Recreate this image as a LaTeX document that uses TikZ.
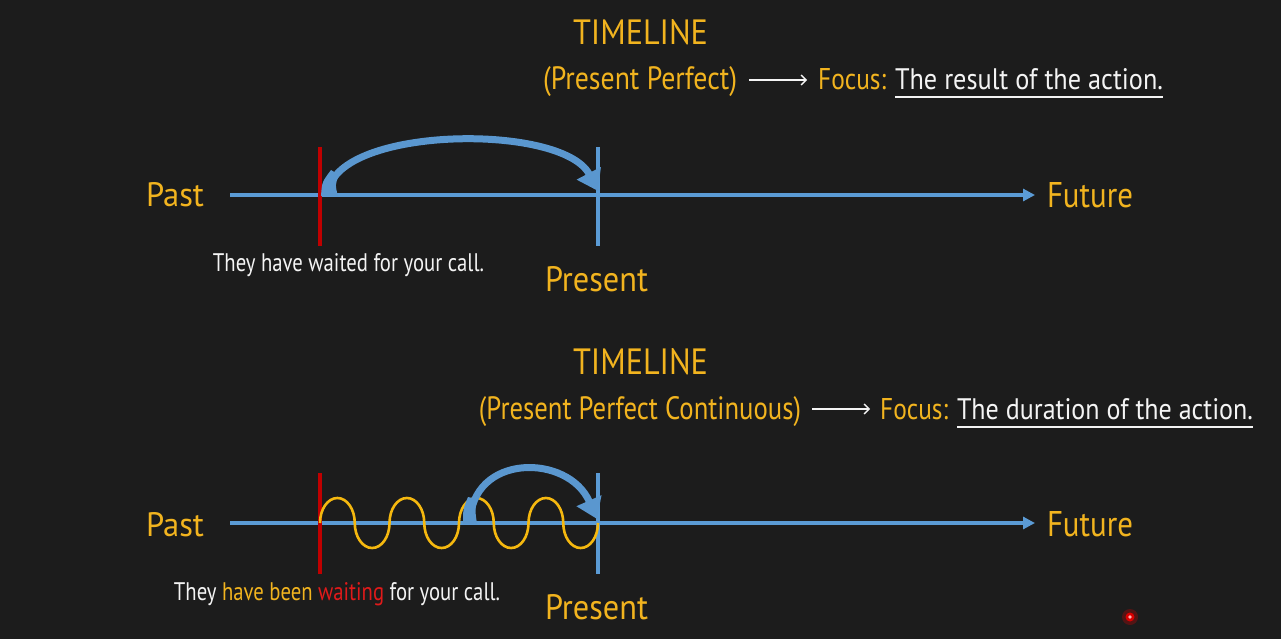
\documentclass[tikz,border=0pt]{standalone}
\usepackage{fontspec}
\setmainfont{PT Sans}
\usepackage{graphicx}
\usetikzlibrary{arrows.meta}
\definecolor{bgc}{HTML}{1C1C1C}
\definecolor{ora}{HTML}{F2B41F}
\definecolor{blu}{HTML}{5B9BD5}
\definecolor{arrb}{HTML}{5A97CF}
\definecolor{redl}{HTML}{C00000}
\definecolor{redt}{HTML}{E01A1A}
\definecolor{wav}{HTML}{F5B80F}
\definecolor{wht}{HTML}{F4F4F4}
\newcommand\rsz[3]{\resizebox{#1pt}{#2pt}{#3}}
\tikzset{
  lbl/.style={inner sep=0pt, anchor=base, font=\fontsize{30}{30}\selectfont},
  olbl/.style={lbl, text=ora},
  wlbl/.style={lbl, text=wht},
  axis/.style={blu, line width=4pt, -{Triangle[length=12pt,width=12pt]}},
  tick/.style={line width=4pt},
  bigarr/.style={arrb, line width=7pt, -{Triangle[length=20pt,width=26pt]}},
  harr/.style={wht, line width=1.3pt, -{Straight Barb[length=5pt,width=10pt]}},
  uline/.style={wht, line width=2.5pt},
  wave/.style={wav, line width=2.6pt},
}
\begin{document}
\begin{tikzpicture}[x=1pt,y=-1pt]
\useasboundingbox (0,0) rectangle (1281,639);
\fill[bgc] (0,0) rectangle (1281,639);

% ---------- top block ----------
\node[olbl] (tl1) at (640.5,45) {\rsz{135}{25}{TIMELINE}};
\node[olbl] (pp) at (640,90) {\rsz{194}{23}{(Present Perfect)}};
\node[olbl, anchor=base west] (f1) at (818,90) {\rsz{68}{21}{Focus:}};
\node[wlbl] (r1) at (1029,90) {\rsz{268}{21}{The result of the action.}};
\coordinate (ha1s) at (749,80);
\coordinate (ha1e) at (807,80);
\draw[harr] (ha1s) -- (ha1e);
\coordinate (u1s) at (895,97);
\coordinate (u1e) at (1163,97);
\draw[uline] (u1s) -- (u1e);

\node[olbl] (past1) at (175,207) {\rsz{58}{24}{Past}};
\node[olbl] (fut1) at (1090,207) {\rsz{86}{25}{Future}};
\coordinate (a1s) at (230,195);
\coordinate (a1e) at (1035,195);
\draw[axis] (a1s) -- (a1e);
\coordinate (r1t) at (320,147); \coordinate (r1b) at (320,246);
\coordinate (b1t) at (598,147); \coordinate (b1b) at (598,246);
\draw[tick, redl] (r1t) -- (r1b);
\draw[tick, blu] (b1t) -- (b1b);
\node[wlbl] (s1) at (348.5,271) {\rsz{271}{18}{They have waited for your call.}};
\node[olbl] (pr1) at (596.5,291) {\rsz{103}{25}{Present}};

\coordinate (c1s) at (328,195);
\coordinate (c1e) at (598,191);
\fill[arrb] (321,196) .. controls (322,182) .. (331,170) -- (339,175) .. controls (335,185) .. (338,196) -- cycle;
\draw[bigarr] (c1s) .. controls (330,126) and (562,122) .. (c1e);

% ---------- bottom block ----------
\node[olbl] (tl2) at (640.5,374) {\rsz{135}{26}{TIMELINE}};
\node[olbl] (ppc) at (640,419) {\rsz{322}{23}{(Present Perfect Continuous)}};
\node[olbl, anchor=base west] (f2) at (880,419) {\rsz{68}{21}{Focus:}};
\node[wlbl] (r2) at (1105,419) {\rsz{296}{21}{The duration of the action.}};
\coordinate (ha2s) at (812,409);
\coordinate (ha2e) at (870,409);
\draw[harr] (ha2s) -- (ha2e);
\coordinate (u2s) at (957,427);
\coordinate (u2e) at (1253,427);
\draw[uline] (u2s) -- (u2e);

\node[olbl] (past2) at (175,536) {\rsz{58}{24}{Past}};
\node[olbl] (fut2) at (1090,536) {\rsz{86}{25}{Future}};
\coordinate (a2s) at (230,523);
\coordinate (a2e) at (1035,523);
\draw[axis] (a2s) -- (a2e);
\coordinate (r2t) at (320,473); \coordinate (r2b) at (320,574);
\coordinate (b2t) at (598,473); \coordinate (b2b) at (598,574);
\draw[tick, redl] (r2t) -- (r2b);
\draw[tick, blu] (b2t) -- (b2b);

\coordinate (w0) at (320,523);
\draw[wave] (w0)
  \foreach \i in {1,...,4}{
    arc[start angle=180,end angle=360,x radius=17.375,y radius=25]
    arc[start angle=180,end angle=0,x radius=17.375,y radius=25]
  };

\node[wlbl] (s2) at (337,600) {\rsz{326}{18}{They \textcolor{ora}{have been} \textcolor{redt}{waiting} for your call.}};
\node[olbl] (pr2) at (596.5,619) {\rsz{103}{25}{Present}};

\coordinate (c2s) at (470,523);
\coordinate (c2e) at (597,519);
\fill[arrb] (463,524) .. controls (463,509) .. (468,497) -- (477,499) .. controls (475,510) .. (477,524) -- cycle;
\draw[bigarr] (c2s) .. controls (471,453) and (568,453) .. (c2e);

% pointer dot
\coordinate (dot) at (1130,617);
\fill[red, opacity=0.25] (dot) circle (8);
\fill[red!85!black] (dot) circle (4.5);
\fill[red!30!white] (dot) circle (1.8);
\end{tikzpicture}
\end{document}
